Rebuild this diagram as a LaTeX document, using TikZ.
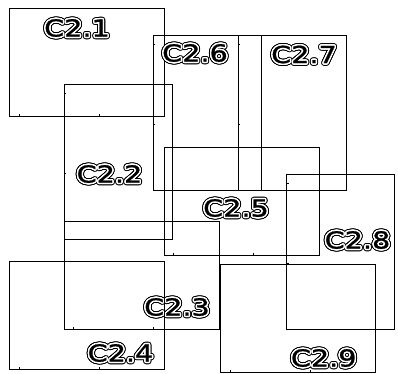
\documentclass[tikz,border=0pt]{standalone}
\usepackage{fontspec}
\newfontfamily\labfont{DejaVu Sans}[FakeBold=1]
\tikzset{
  box/.style={draw=black, line width=0.8pt},
  labtxt/.style={font=\labfont\fontsize{23.5}{23.5}\selectfont, inner sep=0pt, xscale=1.22},
}
\newcommand\hrect[2]{%
  \draw[box] (#1,#2) rectangle ++(155,108);
  \draw[box] (#1+9.7,#2+108) -- ++(0,-2);
  \draw[box] (#1+89.7,#2+108) -- ++(0,-2);
}
\newcommand\vrect[2]{%
  \draw[box] (#1,#2) rectangle ++(108,155);
  \draw[box] (#1,#2+9) -- ++(2,0);
  \draw[box] (#1,#2+89) -- ++(2,0);
}
\newcommand\outlab[3]{%
  \foreach \a in {0,20,...,340}{\node[labtxt,text=black] at ([shift={(\a:2.5pt)}]#2) {#3};}
  \foreach \a in {0,20,...,340}{\node[labtxt,text=white] at ([shift={(\a:1.4pt)}]#2) {#3};}
  \node[labtxt,text=black] (#1) at (#2) {#3};
}
\begin{document}
\begin{tikzpicture}[x=1pt,y=-1pt]
\useasboundingbox[fill=white] (0,0) rectangle (398,373);
\hrect{9.3}{8}     \outlab{l1}{77,28}{C2.1}
\vrect{64}{84.7}   \outlab{l2}{109.5,174}{C2.2}
\hrect{64}{221.3}  \outlab{l3}{177,307}{C2.3}
\hrect{9.3}{261.3} \outlab{l4}{120.5,353}{C2.4}
\hrect{164}{147}   \outlab{l5}{236,208}{C2.5}
\vrect{153.3}{35}  \outlab{l6}{195,53}{C2.6}
\vrect{238.3}{35}  \outlab{l7}{304,54.5}{C2.7}
\vrect{286.5}{174.7} \outlab{l8}{357.5,240}{C2.8}
\hrect{220.7}{264.2} \outlab{l9}{323.7,358}{C2.9}
\end{tikzpicture}
\end{document}
